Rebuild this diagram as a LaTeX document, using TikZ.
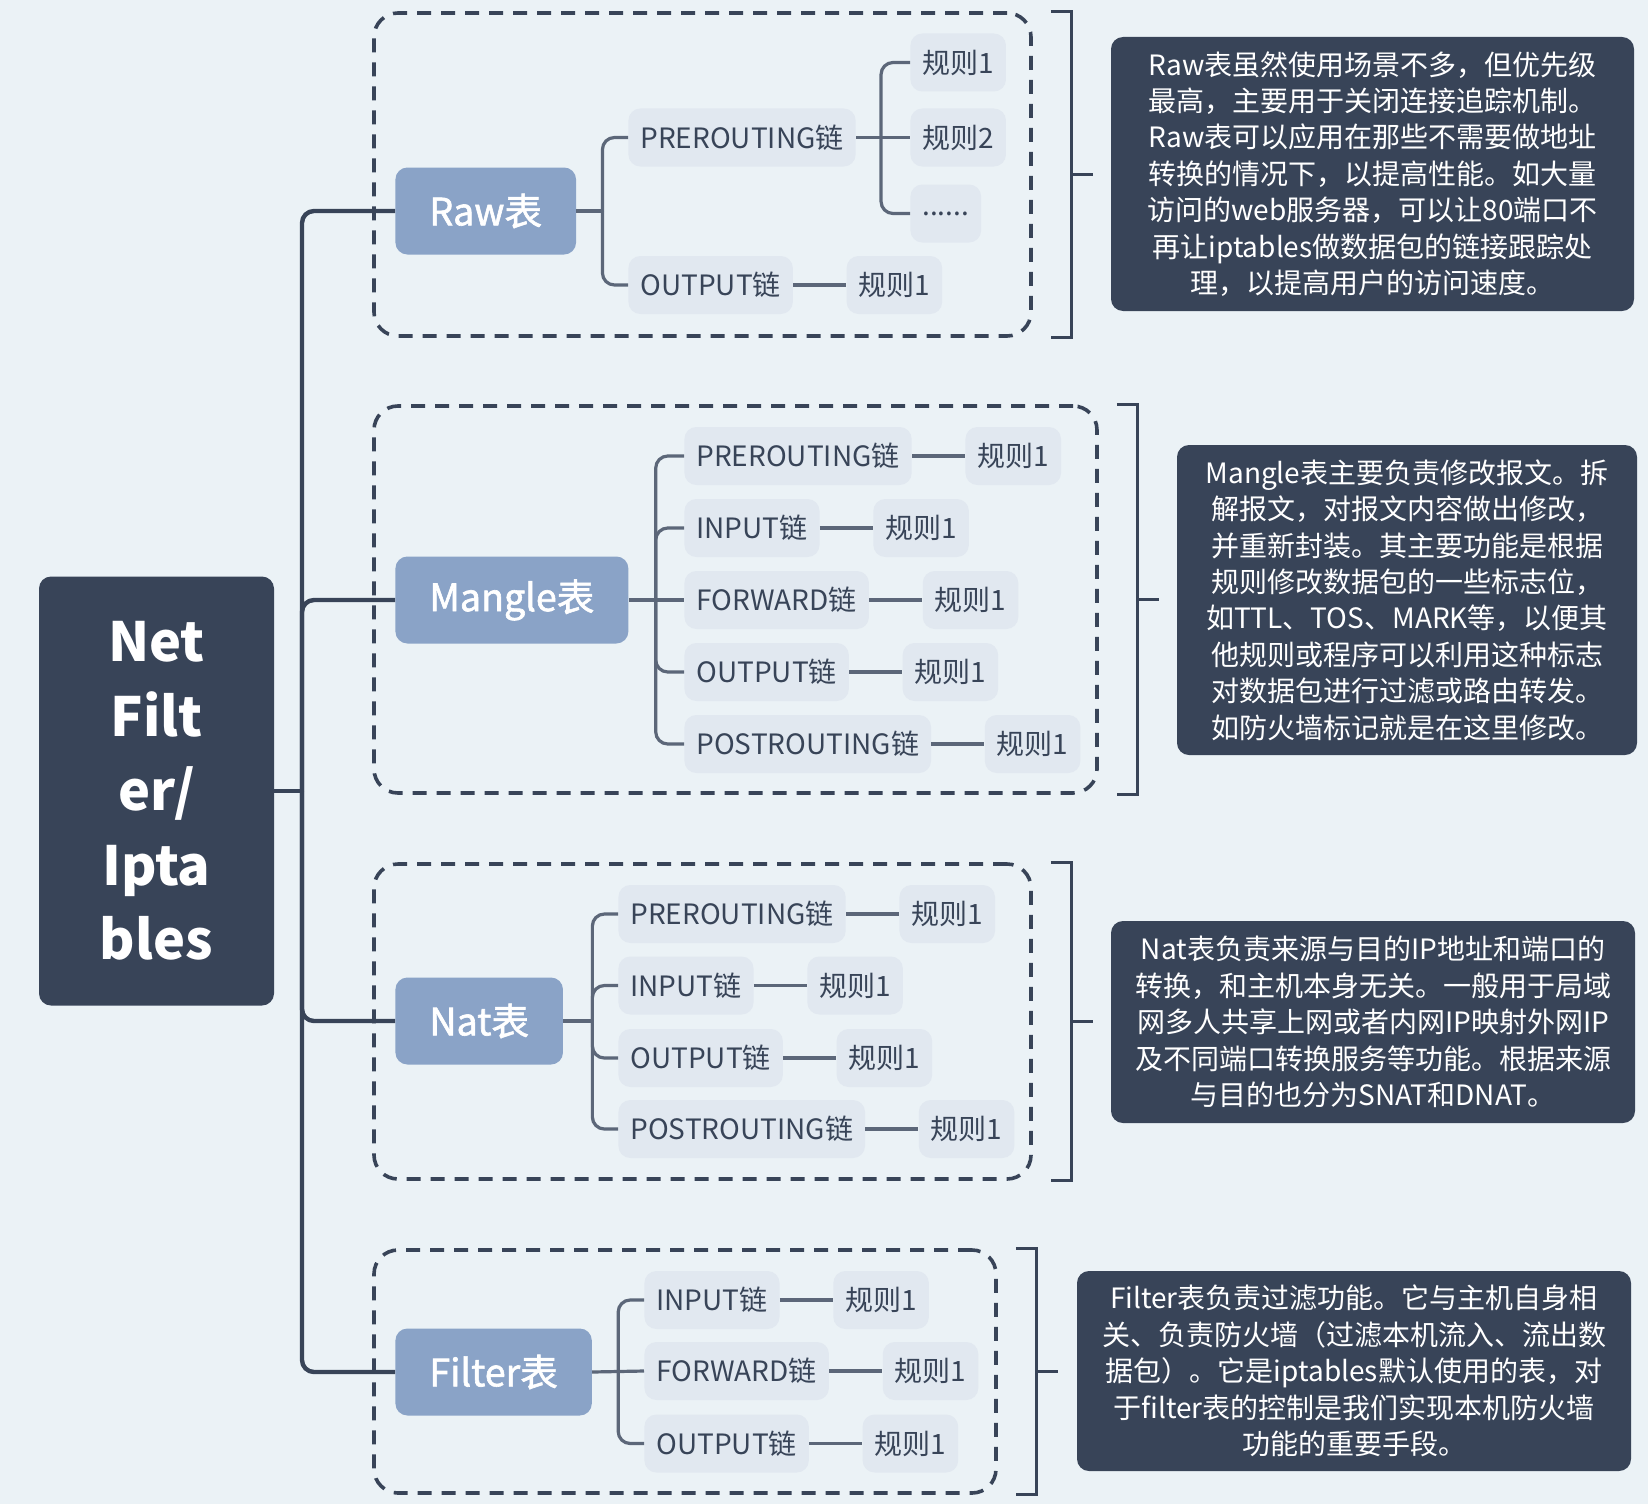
\documentclass[tikz,border=0pt]{standalone}
\usepackage{fontspec}
\setmainfont{Noto Sans CJK SC}
\newfontfamily\medfont{Noto Sans CJK SC}[FakeBold=1.6]
\usetikzlibrary{positioning,calc}
\definecolor{bg}{HTML}{EBF2F6}
\definecolor{dark}{HTML}{384458}
\definecolor{tbl}{HTML}{8AA3C7}
\definecolor{chn}{HTML}{E1E8F0}
\definecolor{linkgray}{HTML}{5C6779}

\begin{document}
\begin{tikzpicture}[x=0.5pt, y=-0.5pt, node distance=26.5pt,
    root/.style = {fill=dark, rounded corners=6pt, text=white, font=\bfseries\fontsize{27}{37.2}\selectfont, align=center, minimum width=117.5pt, minimum height=214.5pt},
    tablebox/.style = {fill=tbl, rounded corners=6pt, text=white, font=\medfont\fontsize{18.8}{22}\selectfont, anchor=west, minimum height=43.5pt, inner xsep=17pt},
    chainbox/.style = {fill=chn, rounded corners=6pt, text=dark, font=\fontsize{14}{16}\selectfont, anchor=west, minimum height=29pt, inner xsep=6pt},
    grp/.style = {draw=dark, line width=1.8pt, dash pattern=on 7pt off 5pt, rounded corners=12pt},
    note/.style = {fill=dark, rounded corners=6pt, text=white, font=\fontsize{14}{18.2}\selectfont, align=center},
    trunk/.style = {draw=dark, line width=2.2pt, rounded corners=6pt},
    link/.style = {draw=linkgray, line width=1.6pt, rounded corners=6pt},
    brk/.style = {draw=dark, line width=1.6pt}]
    \useasboundingbox (0,0) rectangle (1648,1504);
    \fill[bg] (0,0) rectangle (1648,1504);

    \node[grp, minimum width=328.5pt, minimum height=161.5pt] (rawgrp) at (702.5,174.5) {};
    \node[grp, minimum width=361.5pt, minimum height=193.5pt] (mangrp) at (735.5,599.5) {};
    \node[grp, minimum width=328.5pt, minimum height=157.5pt] (natgrp) at (702.5,1021.5) {};
    \node[grp, minimum width=311pt, minimum height=121.5pt] (filgrp) at (685,1371.5) {};

    \node[root] (root) at (156.5,791) {Net\\Filt\\er/\\Ipta\\bles};

    \node[tablebox] (raw) at (395,211) {Raw表};
    \node[tablebox] (mangle) at (395,600) {Mangle表};
    \node[tablebox] (nat) at (395,1021) {Nat表};
    \node[tablebox] (filter) at (395,1372) {Filter表};

    \node[chainbox] (rawpre) at (628,137.5) {PREROUTING链};
    \node[chainbox] (rawout) at (628,285) {OUTPUT链};
    \node[chainbox] (rawpre1) at (910,62.5) {规则1};
    \node[chainbox] (rawpre2) at (910,137.5) {规则2};
    \node[chainbox] (rawpre3) at (910,213.5) {......};
    \node[chainbox, right=of rawout] (rawout1) {规则1};

    \node[chainbox] (manpre) at (684,456) {PREROUTING链};
    \node[chainbox] (manin) at (684,528) {INPUT链};
    \node[chainbox] (manfwd) at (684,600) {FORWARD链};
    \node[chainbox] (manout) at (684,672) {OUTPUT链};
    \node[chainbox] (manpost) at (684,744) {POSTROUTING链};
    \node[chainbox, right=of manpre] (manpre1) {规则1};
    \node[chainbox, right=of manin] (manin1) {规则1};
    \node[chainbox, right=of manfwd] (manfwd1) {规则1};
    \node[chainbox, right=of manout] (manout1) {规则1};
    \node[chainbox, right=of manpost] (manpost1) {规则1};

    \node[chainbox] (natpre) at (618,914) {PREROUTING链};
    \node[chainbox] (natin) at (618,985.5) {INPUT链};
    \node[chainbox] (natout) at (618,1058) {OUTPUT链};
    \node[chainbox] (natpost) at (618,1129) {POSTROUTING链};
    \node[chainbox, right=of natpre] (natpre1) {规则1};
    \node[chainbox, right=of natin] (natin1) {规则1};
    \node[chainbox, right=of natout] (natout1) {规则1};
    \node[chainbox, right=of natpost] (natpost1) {规则1};

    \node[chainbox] (filin) at (644,1300) {INPUT链};
    \node[chainbox] (filfwd) at (644,1371) {FORWARD链};
    \node[chainbox] (filout) at (644,1443.5) {OUTPUT链};
    \node[chainbox, right=of filin] (filin1) {规则1};
    \node[chainbox, right=of filfwd] (filfwd1) {规则1};
    \node[chainbox, right=of filout] (filout1) {规则1};

    \node[note, minimum width=261.5pt, minimum height=137pt] (rawnote) at (1372.5,174) {Raw表虽然使用场景不多，但优先级\\最高，主要用于关闭连接追踪机制。\\Raw表可以应用在那些不需要做地址\\转换的情况下，以提高性能。如大量\\访问的web服务器，可以让80端口不\\再让iptables做数据包的链接跟踪处\\理，以提高用户的访问速度。};
    \node[note, minimum width=230pt, minimum height=155pt] (mannote) at (1407,600) {Mangle表主要负责修改报文。拆\\解报文，对报文内容做出修改，\\并重新封装。其主要功能是根据\\规则修改数据包的一些标志位，\\如TTL、TOS、MARK等，以便其\\他规则或程序可以利用这种标志\\对数据包进行过滤或路由转发。\\如防火墙标记就是在这里修改。};
    \node[note, minimum width=262pt, minimum height=101pt] (natnote) at (1373,1022) {Nat表负责来源与目的IP地址和端口的\\转换，和主机本身无关。一般用于局域\\网多人共享上网或者内网IP映射外网IP\\及不同端口转换服务等功能。根据来源\\与目的也分为SNAT和DNAT。};
    \node[note, minimum width=277pt, minimum height=100pt] (filnote) at (1354,1371) {Filter表负责过滤功能。它与主机自身相\\关、负责防火墙（过滤本机流入、流出数\\据包）。它是iptables默认使用的表，对\\于filter表的控制是我们实现本机防火墙\\功能的重要手段。};

    \coordinate (rootj) at (302,791);
    \draw[trunk] (root.east) -- (rootj);
    \draw[trunk] (rootj) |- (raw.west);
    \draw[trunk] (rootj) |- (mangle.west);
    \draw[trunk] (rootj) |- (nat.west);
    \draw[trunk] (rootj) |- (filter.west);

    \coordinate (rawj) at ($(raw.east)+(26,0)$);
    \draw[link] (raw.east) -- (rawj);
    \draw[link] (rawj) |- (rawpre.west);
    \draw[link] (rawj) |- (rawout.west);
    \coordinate (rawprej) at ($(rawpre.east)+(25,0)$);
    \draw[link] (rawpre.east) -- (rawpre2.west);
    \draw[link] (rawprej) |- (rawpre1.west);
    \draw[link] (rawprej) |- (rawpre3.west);
    \draw[link] (rawout) -- (rawout1);

    \coordinate (manj) at ($(mangle.east)+(27,0)$);
    \draw[link] (mangle.east) -- (manfwd.west);
    \draw[link] (manj) |- (manpre.west);
    \draw[link] (manj) |- (manin.west);
    \draw[link] (manj) |- (manout.west);
    \draw[link] (manj) |- (manpost.west);
    \draw[link] (manpre) -- (manpre1);
    \draw[link] (manin) -- (manin1);
    \draw[link] (manfwd) -- (manfwd1);
    \draw[link] (manout) -- (manout1);
    \draw[link] (manpost) -- (manpost1);

    \coordinate (natj) at ($(nat.east)+(29,0)$);
    \draw[link] (nat.east) -- (natj);
    \draw[link] (natj) |- (natpre.west);
    \draw[link] (natj) |- (natin.west);
    \draw[link] (natj) |- (natout.west);
    \draw[link] (natj) |- (natpost.west);
    \draw[link] (natpre) -- (natpre1);
    \draw[link] (natin) -- (natin1);
    \draw[link] (natout) -- (natout1);
    \draw[link] (natpost) -- (natpost1);

    \coordinate (filj) at ($(filter.east)+(26,0)$);
    \draw[link] (filter.east) -- (filfwd.west);
    \draw[link] (filj) |- (filin.west);
    \draw[link] (filj) |- (filout.west);
    \draw[link] (filin) -- (filin1);
    \draw[link] (filfwd) -- (filfwd1);
    \draw[link] (filout) -- (filout1);

    \draw[brk] ($(rawgrp.north east)+(18,0)$) -- ++(21,0) -- ($(rawgrp.south east)+(39,0)$) -- ++(-21,0);
    \draw[brk] ($(rawgrp.east)+(39,0)$) -- ++(21,0);
    \draw[brk] ($(mangrp.north east)+(18,0)$) -- ++(21,0) -- ($(mangrp.south east)+(39,0)$) -- ++(-21,0);
    \draw[brk] ($(mangrp.east)+(39,0)$) -- ++(21,0);
    \draw[brk] ($(natgrp.north east)+(18,0)$) -- ++(21,0) -- ($(natgrp.south east)+(39,0)$) -- ++(-21,0);
    \draw[brk] ($(natgrp.east)+(39,0)$) -- ++(21,0);
    \draw[brk] ($(filgrp.north east)+(18,0)$) -- ++(21,0) -- ($(filgrp.south east)+(39,0)$) -- ++(-21,0);
    \draw[brk] ($(filgrp.east)+(39,0)$) -- ++(21,0);
  \end{tikzpicture}
\end{document}
